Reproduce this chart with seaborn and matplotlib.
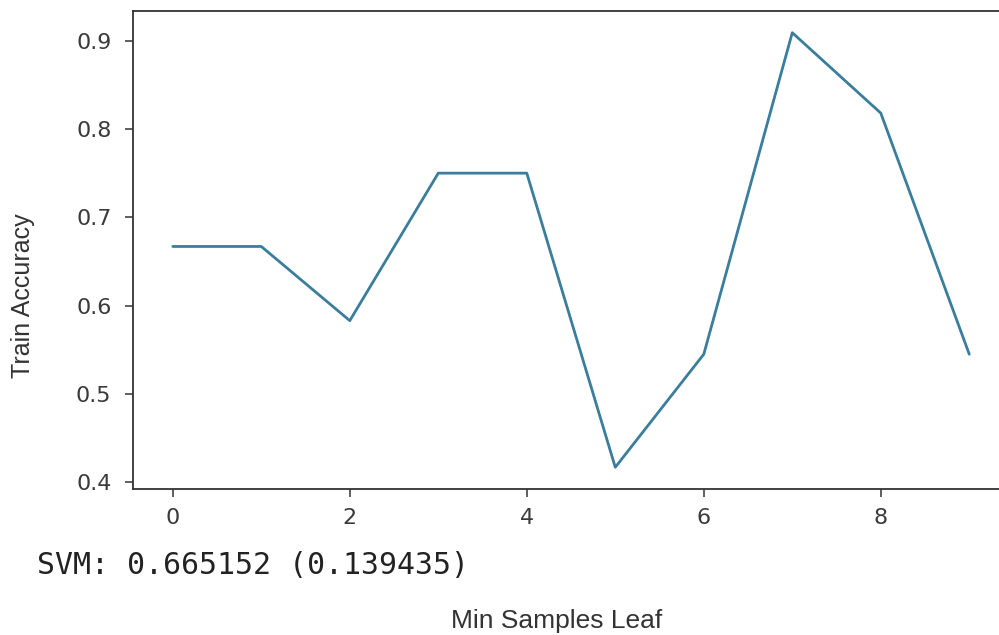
import matplotlib
matplotlib.use("Agg")
import matplotlib.pyplot as plt
import seaborn as sns
import pandas as pd

# Train accuracy per min_samples_leaf setting
min_samples_leaf = [0, 1, 2, 3, 4, 5, 6, 7, 8, 9]
train_accuracy = [0.667, 0.667, 0.583, 0.750, 0.750, 0.417, 0.545, 0.909, 0.818, 0.545]
x_ticks = [0, 2, 4, 6, 8]
y_ticks = [0.4, 0.5, 0.6, 0.7, 0.8, 0.9]
summary_line = "SVM: 0.665152 (0.139435)"

sns.set_style("ticks")
plt.rcParams["font.family"] = ["DejaVu Sans"]

df = pd.DataFrame({"leaf": min_samples_leaf, "acc": train_accuracy})

fig = plt.figure(figsize=(9.99, 6.35), dpi=100)
ax = fig.add_axes([0.1331, 0.2299, 0.877, 0.7528])

sns.lineplot(data=df, x="leaf", y="acc", ax=ax, color="#3a7d9c", linewidth=2.0)

ax.set_xticks(x_ticks)
ax.set_yticks(y_ticks)
ax.set_yticklabels([f"{v:.1f}" for v in y_ticks])
ax.tick_params(axis="both", labelsize=16, colors="#333333", length=5.5, width=1.1)
ax.tick_params(axis="y", pad=10)
ax.tick_params(axis="x", pad=8)
for lab in ax.get_xticklabels() + ax.get_yticklabels():
    lab.set_color("#3a3a3a")
for sp in ax.spines.values():
    sp.set_color("#333333")
    sp.set_linewidth(1.3)

ax.set_xlabel("Min Samples Leaf", fontsize=19, family="Liberation Sans", color="#333333")
ax.set_ylabel("Train Accuracy", fontsize=18, family="Liberation Sans", color="#333333")
ax.xaxis.set_label_coords(0.484, -0.252)
ax.yaxis.set_label_coords(-0.112, 0.405)

fig.text(37 / 999, 1 - 565 / 635, summary_line, family="DejaVu Sans Mono",
         fontsize=21.5, color="#222222", ha="left", va="center")

fig.savefig("out.png", dpi=100)
